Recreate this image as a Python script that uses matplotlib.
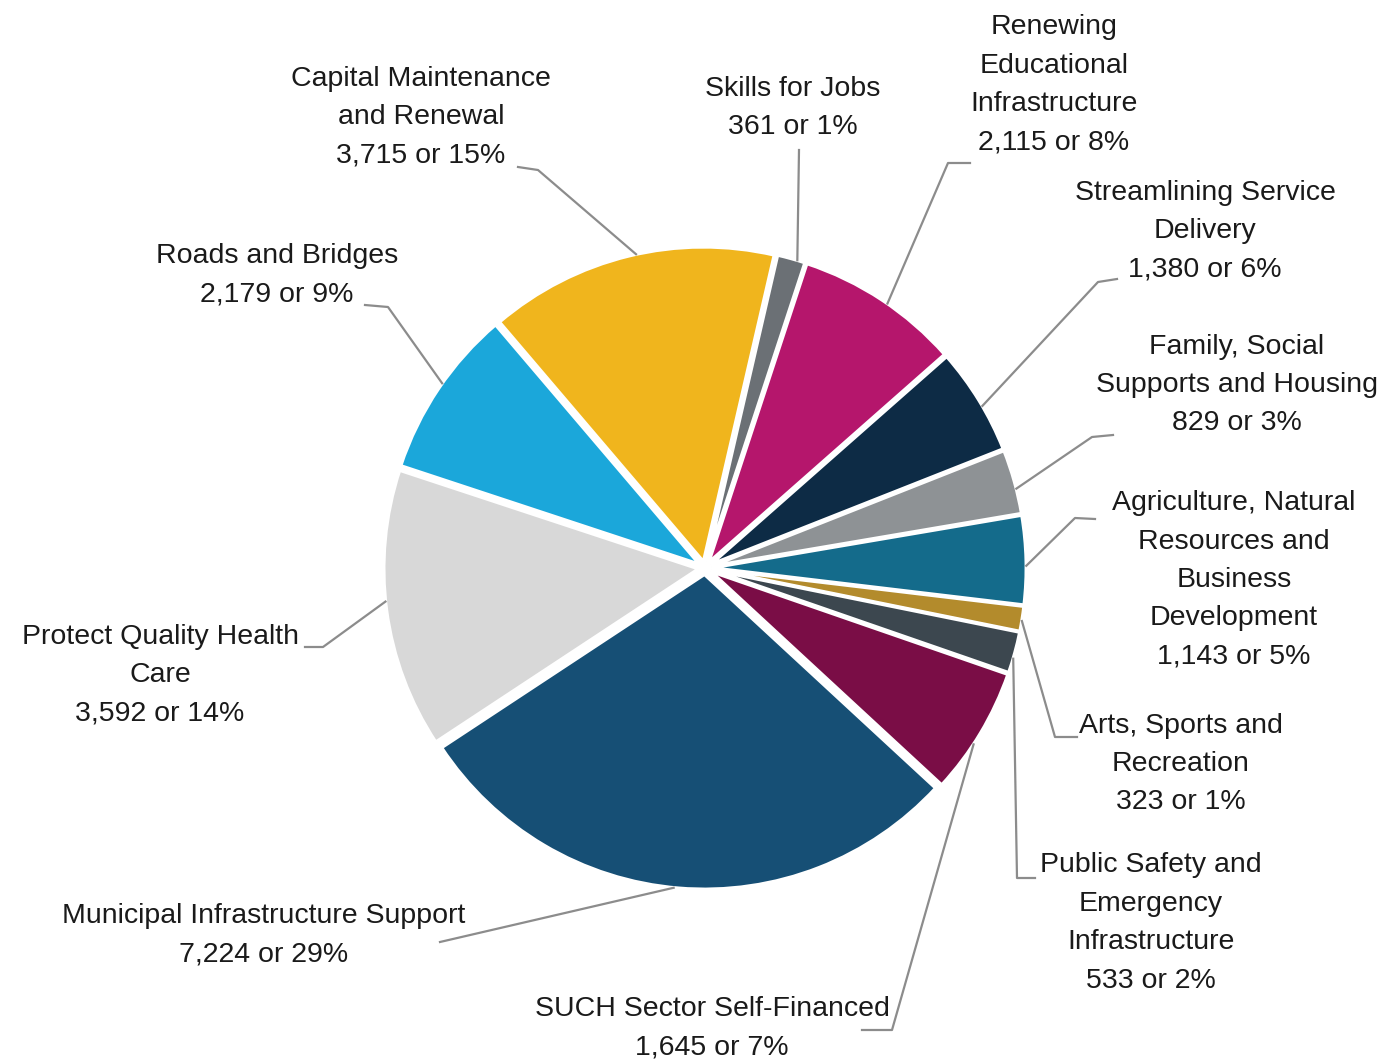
import numpy as np
import matplotlib.pyplot as plt

# slice data, clockwise from the top
names = ['Skills for Jobs', 'Renewing\nEducational\nInfrastructure', 'Streamlining Service\nDelivery',
         'Family, Social\nSupports and Housing', 'Agriculture, Natural\nResources and\nBusiness\nDevelopment',
         'Arts, Sports and\nRecreation', 'Public Safety and\nEmergency\nInfrastructure',
         'SUCH Sector Self-Financed', 'Municipal Infrastructure Support', 'Protect Quality Health\nCare',
         'Roads and Bridges', 'Capital Maintenance\nand Renewal']
values = [361, 2115, 1380, 829, 1143, 323, 533, 1645, 7224, 3592, 2179, 3715]
colors = ['#6b7075', '#b5166c', '#0d2b45', '#8e9295', '#146b8b', '#b38b2c', '#3c474f',
          '#7a0d46', '#164f75', '#d8d8d8', '#1ba7da', '#f0b51d']

# layout (pixel positions of label centres and leader-line elbows)
label_xy = [(793, 108), (1054, 85), (1205, 231), (1237, 385), (1234, 580), (1181, 764), (1151, 923),
            (712, 1028), (264, 935), (160, 675), (277, 275), (421, 117)]
elbows = [[(799, 150)], [(970, 163), (948, 163)], [(1117, 279), (1098, 282)], [(1113, 435), (1092, 437)],
          [(1095, 519), (1075, 518)], [(1077, 737), (1055, 737)], [(1035, 878), (1017, 878)],
          [(862, 1030), (892, 1030)], [(440, 942)], [(305, 647), (323, 647)], [(365, 305), (388, 307)],
          [(518, 167), (538, 170)]]
anchor_deg = [73.3, 55.4, 30.3, 14.3, 0.4, -9.5, -16.4, -33.3, -95.6, -174, 144.9, 102.4]

W, H = 1391, 1064
cx, cy, R = 705, 568, 315


def px(x, y):
    return (x - cx) / R, (cy - y) / R


plt.rcParams['font.family'] = ['Liberation Sans', 'DejaVu Sans']

fig = plt.figure(figsize=(W / 100, H / 100), dpi=100)
ax = fig.add_axes([0, 0, 1, 1])

ax.pie(values, colors=colors, startangle=77, counterclock=False, radius=1.0,
       explode=[0.02] * len(values), wedgeprops=dict(edgecolor='white', linewidth=2.5))

total = sum(values)
for name, v, (tx, ty), pts, a in zip(names, values, label_xy, elbows, anchor_deg):
    txt = f"{name}\n{v:,} or {round(v / total * 100)}%"
    x, y = px(tx, ty)
    ax.text(x, y, txt, ha='center', va='center', multialignment='center', fontsize=20.5,
            color='#1a1a1a', linespacing=1.62)
    line = [px(*p) for p in pts]
    r = 1.02
    line.append((r * np.cos(np.radians(a)), r * np.sin(np.radians(a))))
    xs, ys = zip(*line)
    ax.plot(xs, ys, color='#8c8c8c', lw=1.6)

ax.set_xlim(-cx / R, (W - cx) / R)
ax.set_ylim((cy - H) / R, cy / R)
ax.set_aspect('equal')
ax.axis('off')

fig.savefig('out.png', dpi=100)
